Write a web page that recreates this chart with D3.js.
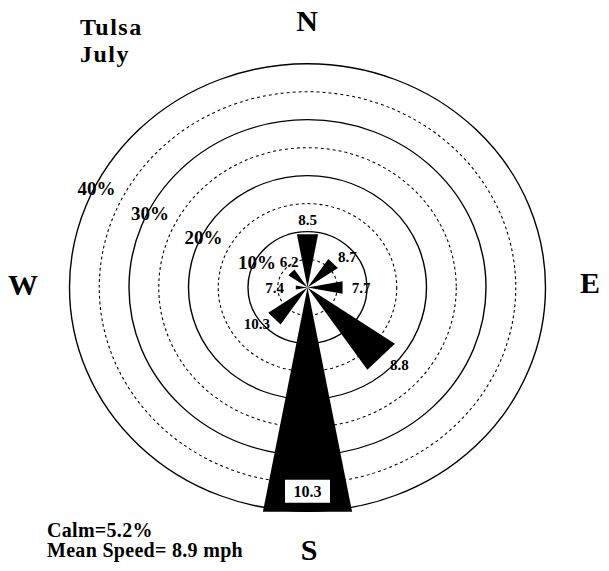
<!DOCTYPE html>
<html>
<head>
<meta charset="utf-8">
<script src="https://cdn.jsdelivr.net/npm/d3@7"></script>
<style>
  body { margin: 0; background: #fff; }
  svg { display: block; }
  text { font-family: "Liberation Serif", "Times New Roman", serif; font-weight: bold; fill: #000; }
</style>
</head>
<body>
<div id="rose"></div>
<script>
// directions clockwise from north, frequency (%) and mean speed (mph)
const directions = ["N", "NE", "E", "SE", "S", "SW", "W", "NW"];
const frequency = [9.7, 6.2, 6.0, 17.8, 40.8, 8.0, 2.0, 3.9];
const speedLabels = ["8.5", "8.7", "7.7", "8.8", "10.3", "10.3", "7.4", "6.2"];
const rings = [5, 10, 15, 20, 25, 30, 35, 40];
const ringLabels = ["10%", "20%", "30%", "40%"];
const compass = ["N", "E", "S", "W"];

const width = 609;
const height = 571;
const cx = 307.5;
const cy = 287.5;
// the scanned figure is a little squashed vertically
const yStretch = 0.94;

// small hand nudges so speed labels sit where the original put them
const labelNudge = { NE: [2, 5], SE: [5, -4], SW: [-5, -6], NW: [10, 1], W: [-3, 0] };

const svg = d3
  .select("#rose")
  .append("svg")
  .attr("width", width)
  .attr("height", height);

const r = d3.scaleLinear().domain([0, 40]).range([0, 238]);
const angle = d3.scalePoint().domain(directions).range([0, 2 * Math.PI * 7 / 8]);
const halfWidth = Math.PI / 17;

const toScreen = ([x, y]) => [cx + x, cy + y * yStretch];

const plot = svg
  .append("g")
  .attr("transform", `translate(${cx}, ${cy}) scale(1, ${yStretch})`);

plot
  .selectAll("circle.ring")
  .data(rings)
  .join("circle")
  .attr("class", "ring")
  .attr("r", (d) => r(d))
  .attr("fill", "none")
  .attr("stroke", "#000")
  .attr("stroke-width", (d) => (d % 10 === 0 ? 1.4 : 1.1))
  .attr("stroke-dasharray", (d) => (d % 10 === 0 ? null : "3,3"));

const petal = d3.line();
plot
  .selectAll("path.petal")
  .data(directions)
  .join("path")
  .attr("class", "petal")
  .attr("d", (d, i) => {
    const a = angle(d);
    const len = r(frequency[i]);
    return petal([
      [0, 0],
      d3.pointRadial(a - halfWidth, len),
      d3.pointRadial(a + halfWidth, len),
    ]) + "Z";
  })
  .attr("fill", "#000");

// speed labels beyond each petal, S label boxed inside the long petal
const labels = svg.append("g");
directions.forEach((d, i) => {
  const a = angle(d);
  if (d === "S") {
    const [x, y] = toScreen(d3.pointRadial(a, r(frequency[i]) - 26));
    labels
      .append("rect")
      .attr("x", x - 22.5)
      .attr("y", y - 11.5)
      .attr("width", 45)
      .attr("height", 23)
      .attr("fill", "#fff");
    labels
      .append("text")
      .attr("x", x)
      .attr("y", y + 5.5)
      .attr("text-anchor", "middle")
      .attr("font-size", "16px")
      .text(speedLabels[i]);
    return;
  }
  const pad = 14 + 4 * Math.abs(Math.sin(a));
  const [x, y] = toScreen(d3.pointRadial(a, r(frequency[i]) + pad));
  const [nx, ny] = labelNudge[d] || [0, 0];
  labels
    .append("text")
    .attr("x", x + nx)
    .attr("y", y + ny + 5)
    .attr("text-anchor", "middle")
    .attr("font-size", "15px")
    .text(speedLabels[i]);
});

// ring percentage labels, straddling each solid ring above west
const labelAngle = -64 * Math.PI / 180;
svg
  .append("g")
  .selectAll("text")
  .data(ringLabels)
  .join("text")
  .attr("x", (d) => toScreen(d3.pointRadial(labelAngle, r(parseFloat(d))))[0] + 3)
  .attr("y", (d) => toScreen(d3.pointRadial(labelAngle, r(parseFloat(d))))[1] + 6)
  .attr("text-anchor", "middle")
  .attr("font-size", "19px")
  .text((d) => d);

// compass letters
const compassPos = {
  N: [307, 31],
  E: [590, 293],
  S: [309, 560],
  W: [23, 295],
};
svg
  .append("g")
  .selectAll("text")
  .data(compass)
  .join("text")
  .attr("x", (d) => compassPos[d][0])
  .attr("y", (d) => compassPos[d][1])
  .attr("text-anchor", "middle")
  .attr("font-size", "30px")
  .text((d) => d);

svg.append("text").attr("x", 80).attr("y", 35).attr("font-size", "24px")
  .attr("letter-spacing", "1.5px").text("Tulsa");
svg.append("text").attr("x", 80).attr("y", 62).attr("font-size", "24px")
  .attr("letter-spacing", "1.5px").text("July");

svg.append("text").attr("x", 47).attr("y", 537).attr("font-size", "20px")
  .attr("letter-spacing", "0.3px").text("Calm=5.2%");
svg.append("text").attr("x", 47).attr("y", 557).attr("font-size", "20px")
  .attr("letter-spacing", "0.3px").text("Mean Speed= 8.9 mph");
</script>
</body>
</html>
